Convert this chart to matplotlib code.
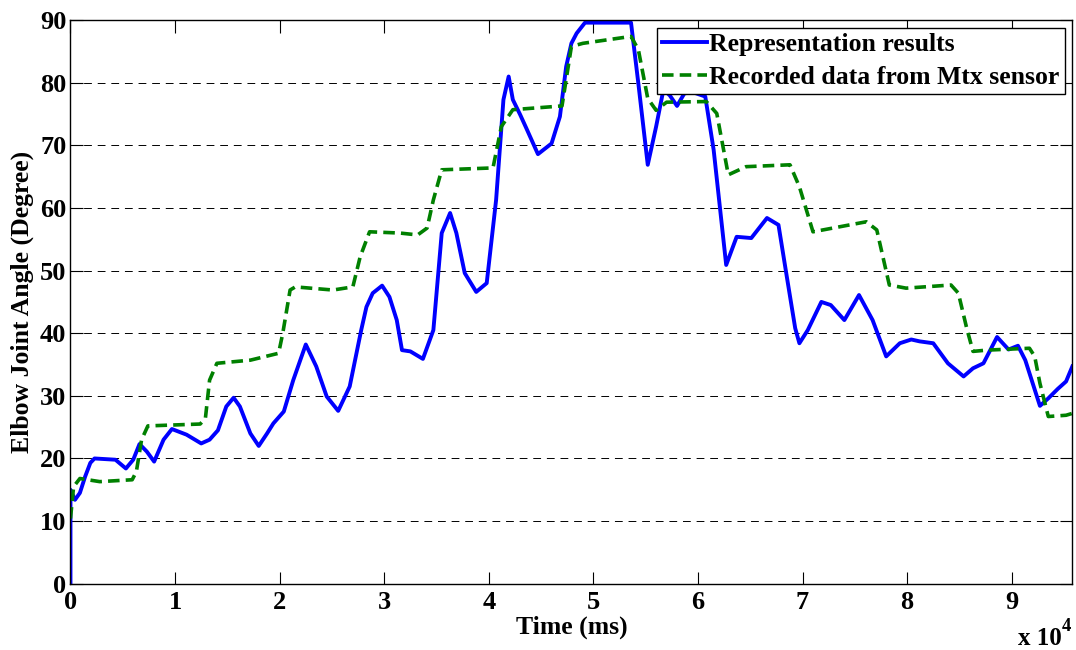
import numpy as np
import matplotlib.pyplot as plt

# time in ms, angle in degrees
t_rep = [0, 0, 430, 900, 1400, 1900, 2300, 3300, 4300, 5300, 6000, 6600, 7300, 8000, 8900,
         9700, 11100, 12500, 13300, 14100, 14900, 15600, 16200, 17200, 18000, 18800, 19400,
         20400, 21300, 22500, 23500, 24500, 25600, 26700, 27800, 28300, 28900, 29800, 30500,
         31200, 31700, 32500, 33700, 34700, 35500, 36300, 36900, 37700, 38800, 39800, 40700,
         41400, 41900, 42300, 43000, 43600, 44700, 46000, 46800, 47400, 47900, 48400, 49200,
         53600, 54300, 55200, 56000, 56700, 57300, 58000, 58700, 59500, 60700, 61500, 62700,
         63700, 65100, 66600, 67700, 68500, 69300, 69700, 70500, 71800, 72700, 74000, 75400,
         76700, 78000, 79300, 80400, 81200, 82500, 83900, 85400, 86300, 87300, 88600, 89700,
         90600, 91300, 92700, 93500, 94400, 95200, 95800]
angle_rep = [0, 15.0, 13.4, 14.5, 17.1, 19.3, 20.0, 19.9, 19.8, 18.4, 19.8, 22.3, 21.1, 19.5, 23.0,
             24.7, 23.8, 22.4, 23.0, 24.5, 28.3, 29.7, 28.3, 24.0, 22.0, 24.0, 25.6,
             27.5, 32.5, 38.2, 34.7, 29.9, 27.6, 31.5, 40.5, 44.2, 46.4, 47.6, 45.8,
             42.1, 37.3, 37.1, 35.9, 40.5, 56.0, 59.2, 56.0, 49.6, 46.6, 48.0, 61.3,
             77.3, 81.0, 77.3, 74.9, 72.7, 68.6, 70.3, 74.6, 82.6, 86.3, 87.9, 89.6,
             89.6, 79.9, 66.9, 73.0, 78.9, 78.0, 76.3, 78.3, 78.5, 77.8, 69.3, 50.9,
             55.4, 55.2, 58.4, 57.3, 49.0, 40.8, 38.4, 40.5, 45.0, 44.5, 42.1, 46.1,
             42.1, 36.3, 38.4, 39.0, 38.7, 38.4, 35.2, 33.1, 34.4, 35.2, 39.4, 37.4,
             38.0, 35.7, 28.4, 29.6, 31.1, 32.3, 34.7]

t_rec = [0, 300, 900, 2800, 5900, 6300, 6800, 7400, 12400, 12900, 13300, 14000, 17200, 19900,
         20300, 21000, 21500, 25100, 27000, 27700, 28600, 31500, 33200, 34100, 34700, 35500,
         40400, 41200, 42300, 47000, 47900, 49000, 53600, 54300, 55200, 56000, 57000, 60800,
         61800, 62900, 64600, 68800, 69700, 71000, 76100, 77100, 78300, 79900, 84200, 84900,
         85700, 86300, 87600, 91700, 92200, 92700, 93500, 95200, 95800]
angle_rec = [10.4, 15.5, 16.8, 16.3, 16.6, 17.9, 23.0, 25.2, 25.5, 26.4, 32.5, 35.2, 35.7, 36.8,
             40.0, 46.9, 47.4, 46.9, 47.4, 52.2, 56.2, 56.0, 55.7, 56.8, 61.3, 66.1,
             66.4, 73.0, 75.7, 76.3, 85.8, 86.3, 87.4, 85.3, 77.5, 75.6, 76.9, 77.0,
             75.1, 65.3, 66.6, 66.9, 63.4, 56.2, 57.8, 56.5, 47.7, 47.2, 47.7, 46.4,
             40.8, 37.1, 37.3, 37.6, 36.3, 32.0, 26.7, 26.9, 27.2]

plt.rcParams['font.family'] = 'Liberation Serif'
plt.rcParams['font.weight'] = 'bold'

fig = plt.figure(figsize=(10.76, 6.5), dpi=100)
ax = fig.add_axes([0.0655, 0.102, 0.9311, 0.867])

ax.plot(t_rep, angle_rep, color='#0000ff', lw=2.8, label='Representation results')
ax.plot(t_rec, angle_rec, color='#008000', lw=2.6, ls=(0, (3.2, 1.7)),
        label='Recorded data from Mtx sensor')

ax.set_xlim(0, 95800)
ax.set_ylim(0, 90)
ax.set_xticks(np.arange(0, 100000, 10000))
ax.set_xticklabels([str(i) for i in range(10)])
ax.set_yticks(np.arange(0, 100, 10))
ax.yaxis.grid(True, color='black', lw=0.7, ls=(0, (8, 6)))
ax.tick_params(direction='in', length=9, width=0.8, top=True, right=True, labelsize=19)
ax.tick_params(axis='y', pad=3)
ax.tick_params(axis='x', pad=5)
for s in ax.spines.values():
    s.set_linewidth(1.0)

ax.set_xlabel('Time (ms)', fontweight='bold', fontsize=18.5)
ax.xaxis.set_label_coords(0.5, -0.057)
ax.set_ylabel('Elbow Joint Angle (Degree)', fontweight='bold', fontsize=18.5)
ax.yaxis.set_label_coords(-0.036, 0.5)

fig.text(1062 / 1076, 5 / 650, 'x 10', ha='right', va='baseline', fontsize=18,
         fontweight='bold')
fig.text(1062 / 1076, 32 / 650, '4', ha='left', va='top', fontsize=13.5, fontweight='bold')

leg = ax.legend(loc='upper right', handlelength=1.75, handletextpad=0.1, borderpad=0.2,
                labelspacing=0.4, borderaxespad=0.3, fancybox=False, framealpha=1,
                prop={'weight': 'bold', 'size': 18.5})
leg.get_frame().set_edgecolor('black')
leg.get_frame().set_linewidth(1.0)

fig.savefig('out.png', dpi=100)
